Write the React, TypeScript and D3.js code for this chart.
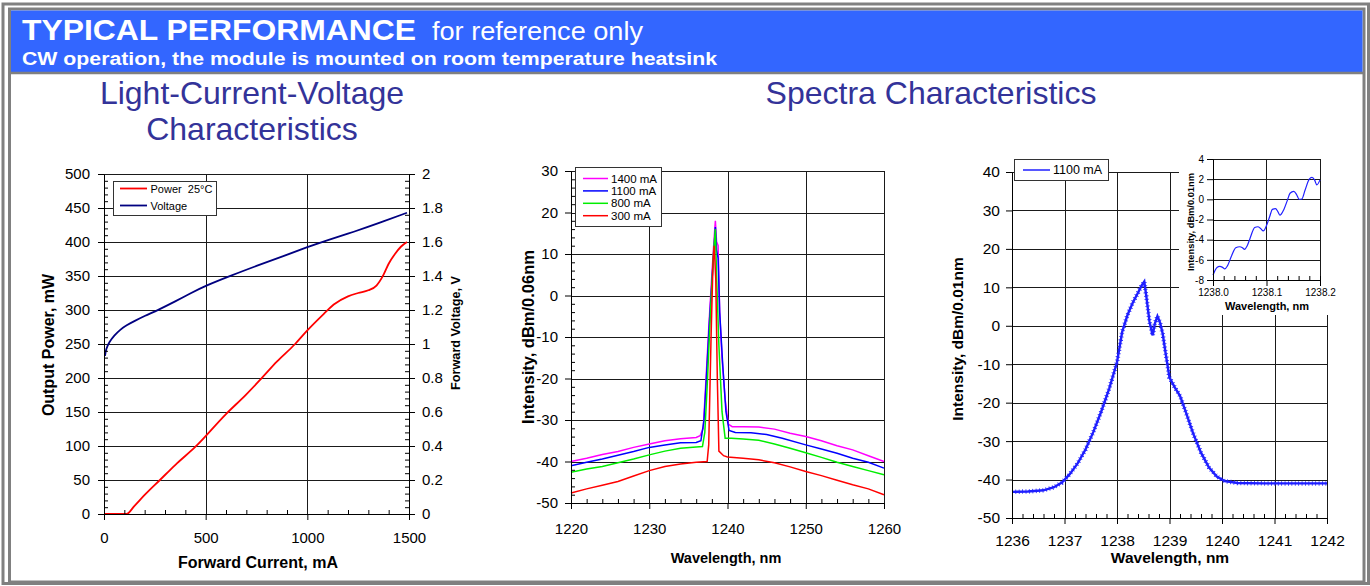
import React, { useEffect, useRef } from 'react';
import * as d3 from 'd3';

const FONT = "'Liberation Sans', Arial, Helvetica, sans-serif";

// ---- Light-Current-Voltage ----
const powerCurrent = [0, 50, 110, 150, 200, 275, 350, 450, 600, 700, 770, 850, 940, 1000, 1080, 1130, 1200, 1250, 1300, 1340, 1375, 1400, 1430, 1460, 1490];
const powerMw = [0, 0, 0, 12, 28, 50, 72, 99, 147, 176, 198, 224, 250, 270, 294, 308, 320, 325, 329, 336, 352, 368, 382, 393, 400];
const voltCurrent = [5, 10, 25, 50, 80, 110, 150, 200, 266, 350, 420, 500, 620, 750, 880, 1000, 1100, 1230, 1350, 1490];
const voltV = [0.93, 0.97, 1.01, 1.05, 1.085, 1.11, 1.135, 1.165, 1.2, 1.25, 1.295, 1.343, 1.4, 1.46, 1.515, 1.57, 1.612, 1.66, 1.71, 1.772];
const livCurrentTicks = [0, 500, 1000, 1500];
const livPowerTicks = [0, 50, 100, 150, 200, 250, 300, 350, 400, 450, 500];
const livVoltTicks = [0, 0.2, 0.4, 0.6, 0.8, 1, 1.2, 1.4, 1.6, 1.8, 2];

// ---- Spectra, four currents ----
const spectraNames = ['1400 mA', '1100 mA', '800 mA', '300 mA'];
const spectraColors = ['#ff00ff', '#0000ff', '#00ee00', '#ff0000'];
const wl1400 = [1220, 1222, 1224, 1226, 1228, 1230, 1232, 1234, 1236, 1236.5, 1236.9, 1237.2, 1237.6, 1238.0, 1238.3, 1238.45, 1238.6, 1238.8, 1239.0, 1239.3, 1239.7, 1240.1, 1240.6, 1242, 1244, 1246, 1248, 1250, 1252, 1254, 1256, 1258, 1260];
const db1400 = [-40, -39.2, -38.3, -37.6, -36.6, -35.8, -35.0, -34.5, -34.2, -33.8, -32, -22, -8, 5, 14, 18, 13, 12, -4, -15, -25, -31, -31.6, -31.6, -31.7, -32.2, -33.2, -34.0, -35.0, -36.2, -37.2, -38.6, -40];
const wl1100 = [1220, 1222, 1224, 1226, 1228, 1230, 1232, 1234, 1236, 1236.6, 1237, 1237.3, 1237.7, 1238.1, 1238.45, 1238.6, 1238.8, 1239.0, 1239.4, 1239.8, 1240.2, 1241, 1243, 1245, 1247, 1250, 1252, 1254, 1256, 1258, 1260];
const db1100 = [-41, -40.2, -39.4, -38.5, -37.6, -36.6, -36, -35.5, -35.4, -35, -30, -20, -6, 6, 16.5, 11, 9, -4, -17, -28, -32.5, -33, -33.1, -33.5, -34.4, -36, -37, -38, -39.2, -40.2, -41.6];
const wl800 = [1220, 1222, 1224, 1226, 1228, 1230, 1232, 1234, 1236, 1236.8, 1237.1, 1237.4, 1237.8, 1238.2, 1238.45, 1238.6, 1238.9, 1239.3, 1239.7, 1240.5, 1242, 1244, 1246, 1248, 1250, 1252, 1254, 1256, 1258, 1260];
const db800 = [-42.6, -41.8, -41.2, -40.3, -39.4, -38.4, -37.5, -36.8, -36.5, -36.4, -33, -22, -5, 10, 16, 5, -12, -28, -34.4, -34.4, -34.6, -34.9, -35.8, -36.8, -37.9, -39, -40.2, -41.2, -42.2, -43.2];
const wl300 = [1220, 1222, 1224, 1226, 1228, 1230, 1232, 1234, 1236, 1237.4, 1237.6, 1237.9, 1238.15, 1238.3, 1238.5, 1238.7, 1238.9, 1239.5, 1240, 1242, 1244, 1246, 1248, 1250, 1252, 1254, 1256, 1258, 1260];
const db300 = [-47.6, -46.6, -45.7, -44.8, -43.5, -42.2, -41.2, -40.6, -40.2, -40, -36, -10, 8, 12, 4, -20, -37.5, -38.6, -38.9, -39.2, -39.6, -40.3, -41.3, -42.4, -43.4, -44.5, -45.6, -46.6, -48];
const spectraWl = [wl1400, wl1100, wl800, wl300];
const spectraDb = [db1400, db1100, db800, db300];
const spectraWlTicks = [1220, 1230, 1240, 1250, 1260];
const spectraDbTicks = [-50, -40, -30, -20, -10, 0, 10, 20, 30];

// ---- Single spectrum, 1100 mA ----
const fineWl = [1236, 1236.3, 1236.6, 1236.8, 1236.95, 1237.1, 1237.25, 1237.4, 1237.55, 1237.7, 1237.85, 1238.0, 1238.1, 1238.2, 1238.3, 1238.4, 1238.47, 1238.52, 1238.56, 1238.62, 1238.68, 1238.72, 1238.77, 1238.82, 1238.87, 1238.93, 1239.0, 1239.1, 1239.2, 1239.3, 1239.45, 1239.6, 1239.75, 1239.9, 1240.05, 1240.3, 1240.8, 1241.4, 1242];
const fineDb = [-43.2, -43.1, -42.8, -42.0, -40.8, -38.6, -35.8, -32.2, -27.6, -22.3, -16.4, -9.5, -1.5, 2.8, 6.0, 8.6, 10.5, 11.5, 7.5, 1.0, -2.5, 0.5, 2.5, 0.8, -2.0, -7.5, -13.5, -16.0, -18.2, -22.0, -28.0, -33.0, -36.8, -39.2, -40.4, -40.9, -41.0, -41.0, -41.0];
const fineWlTicks = [1236, 1237, 1238, 1239, 1240, 1241, 1242];
const fineDbTicks = [-50, -40, -30, -20, -10, 0, 10, 20, 30, 40];

// inset zoom 1238.0 - 1238.2
const insetWl = [1238.0, 1238.0075, 1238.0125, 1238.018, 1238.022, 1238.027, 1238.034, 1238.0425, 1238.05, 1238.055, 1238.059, 1238.064, 1238.069, 1238.078, 1238.084, 1238.089, 1238.094, 1238.1, 1238.106, 1238.111, 1238.117, 1238.121, 1238.125, 1238.1325, 1238.139, 1238.144, 1238.151, 1238.156, 1238.161, 1238.166, 1238.172, 1238.18, 1238.185, 1238.19, 1238.194, 1238.2];
const insetDb = [-7.5, -6.75, -6.65, -6.75, -6.9, -6.6, -5.7, -4.8, -4.7, -4.8, -4.97, -4.6, -3.9, -2.8, -2.72, -2.9, -3.13, -2.6, -1.7, -1.0, -0.93, -1.2, -1.57, -1.0, -0.1, 0.6, 0.78, 0.5, 0.0, 0.03, 0.9, 2.0, 2.17, 1.9, 1.43, 1.93];
const insetWlTicks = [1238.0, 1238.1, 1238.2];
const insetDbTicks = [-8, -6, -4, -2, 0, 2, 4];

type G = d3.Selection<SVGGElement, unknown, null, undefined>;

const px = (v: number) => Math.round(v) + 0.5;

function gridLines(g: G, xs: number[], ys: number[], x0: number, x1: number, y0: number, y1: number) {
  xs.forEach(x => {
    g.append('line').attr('x1', px(x)).attr('x2', px(x)).attr('y1', y0).attr('y2', y1)
      .attr('stroke', '#1a1a1a').attr('stroke-width', 1);
  });
  ys.forEach(y => {
    g.append('line').attr('x1', x0).attr('x2', x1).attr('y1', px(y)).attr('y2', px(y))
      .attr('stroke', '#1a1a1a').attr('stroke-width', 1);
  });
}

function yAxis(g: G, scale: any, x: number, side: string, major: number[], minor: number[], fmt: (d: any) => string, pad: number, fs: number, minorLen = 4) {
  const mk = side === 'left' ? d3.axisLeft : d3.axisRight;
  const a = g.append('g').attr('transform', `translate(${x},0)`)
    .call(mk(scale).tickValues(major).tickSizeInner(6).tickSizeOuter(0).tickPadding(pad).tickFormat(fmt));
  a.attr('font-family', FONT).attr('font-size', fs);
  a.select('.domain').attr('stroke', '#000');
  if (minor.length) {
    const m = g.append('g').attr('transform', `translate(${x},0)`)
      .call(mk(scale).tickValues(minor).tickSize(-minorLen).tickFormat(() => ''));
    m.select('.domain').remove();
  }
}

function xAxis(g: G, scale: any, y: number, major: number[], minor: number[], fmt: (d: any) => string, pad: number, fs: number, minorLen = 4) {
  const a = g.append('g').attr('transform', `translate(0,${y})`)
    .call(d3.axisBottom(scale).tickValues(major).tickSizeInner(6).tickSizeOuter(0).tickPadding(pad).tickFormat(fmt));
  a.attr('font-family', FONT).attr('font-size', fs);
  a.select('.domain').attr('stroke', '#000');
  if (minor.length) {
    const m = g.append('g').attr('transform', `translate(0,${y})`)
      .call(d3.axisBottom(scale).tickValues(minor).tickSize(-minorLen).tickFormat(() => ''));
    m.select('.domain').remove();
  }
}

function label(g: G, text: string, x: number, y: number, fs: number, rotate = false) {
  g.append('text')
    .attr('transform', rotate ? `translate(${x},${y}) rotate(-90)` : `translate(${x},${y})`)
    .attr('text-anchor', 'middle')
    .attr('dominant-baseline', 'central')
    .attr('font-family', FONT)
    .attr('font-weight', 'bold')
    .attr('font-size', fs)
    .text(text);
}

const pairs = (xs: number[], ys: number[]) => xs.map((x, i) => [x, ys[i]] as [number, number]);

function App() {
  const ref = useRef<SVGSVGElement>(null);

  useEffect(() => {
    drawAll();
  }, []);

  function drawAll() {
    const svg = d3.select(ref.current);
    svg.selectAll('*').remove();
    const root = svg.append('g') as unknown as G;

    // frame + header
    root.append('rect').attr('x', 3).attr('y', 4).attr('width', 1365.5).attr('height', 579.5)
      .attr('fill', 'none').attr('stroke', '#808080').attr('stroke-width', 3);
    root.append('rect').attr('x', 9.5).attr('y', 9).attr('width', 1354.5).attr('height', 573)
      .attr('fill', 'none').attr('stroke', '#808080').attr('stroke-width', 3);
    root.append('rect').attr('x', 11).attr('y', 10.5).attr('width', 1351.5).attr('height', 61.5).attr('fill', '#3366ff');
    root.append('line').attr('x1', 11).attr('x2', 1364).attr('y1', 73).attr('y2', 73)
      .attr('stroke', '#808080').attr('stroke-width', 2.5);
    root.append('text').attr('x', 22).attr('y', 40).attr('fill', '#fff').attr('font-family', FONT)
      .attr('font-weight', 'bold').attr('font-size', 30).attr('textLength', 394).attr('lengthAdjust', 'spacingAndGlyphs')
      .text('TYPICAL PERFORMANCE');
    root.append('text').attr('x', 432).attr('y', 40).attr('fill', '#fff').attr('font-family', FONT)
      .attr('font-size', 25).attr('textLength', 211).attr('lengthAdjust', 'spacingAndGlyphs')
      .text('for reference only');
    root.append('text').attr('x', 22).attr('y', 65).attr('fill', '#fff').attr('font-family', FONT)
      .attr('font-weight', 'bold').attr('font-size', 18).attr('textLength', 695).attr('lengthAdjust', 'spacingAndGlyphs')
      .text('CW operation, the module is mounted on room temperature heatsink');

    // section titles
    const title = (t: string, x: number, y: number) => root.append('text').attr('x', x).attr('y', y)
      .attr('text-anchor', 'middle').attr('fill', '#333399').attr('font-family', FONT).attr('font-size', 32).text(t);
    title('Light-Current-Voltage', 252, 104);
    title('Characteristics', 252, 140);
    title('Spectra Characteristics', 931, 104);

    // ===== chart 1: L-I-V =====
    const c1 = root.append('g') as unknown as G;
    const x1 = d3.scaleLinear().domain([0, 1500]).range([104, 409]);
    const yP = d3.scaleLinear().domain([0, 500]).range([514, 174]);
    const yV = d3.scaleLinear().domain([0, 2]).range([514, 174]);
    gridLines(c1, [x1(500), x1(1000)], livPowerTicks.map(v => yP(v)), 104, 409, 174, 514);
    c1.append('path').datum(pairs(powerCurrent, powerMw))
      .attr('fill', 'none').attr('stroke', '#ff0000').attr('stroke-width', 1.8)
      .attr('d', d3.line().x(d => x1(d[0])).y(d => yP(d[1])).curve(d3.curveMonotoneX));
    c1.append('path').datum(pairs(voltCurrent, voltV))
      .attr('fill', 'none').attr('stroke', '#000080').attr('stroke-width', 1.8)
      .attr('d', d3.line().x(d => x1(d[0])).y(d => yV(d[1])).curve(d3.curveBasis));
    yAxis(c1, yP, 104, 'left', livPowerTicks, d3.range(0, 501, 10).filter(v => v % 50 !== 0), d => String(d), 8, 15);
    yAxis(c1, yV, 409, 'right', livVoltTicks, d3.range(0, 2.001, 0.04).filter(v => Math.abs(v / 0.2 - Math.round(v / 0.2)) > 0.01), d => String(+(+d).toFixed(1)), 7, 15);
    xAxis(c1, x1, 514, livCurrentTicks, d3.range(100, 1500, 100).filter(v => v % 500 !== 0), d => String(d), 12, 15);
    label(c1, 'Forward Current, mA', 258, 562, 16);
    label(c1, 'Output Power, mW', 48, 345, 16, true);
    label(c1, 'Forward Voltage, V', 456, 333, 12.7, true);
    // legend
    c1.append('rect').attr('x', 113.5).attr('y', 181.5).attr('width', 103).attr('height', 34)
      .attr('fill', '#fff').attr('stroke', '#333').attr('stroke-width', 1);
    [['Power  25°C', '#ff0000', 188.5], ['Voltage', '#000080', 205.5]].forEach(([t, c, y]) => {
      c1.append('line').attr('x1', 120).attr('x2', 147).attr('y1', y as number).attr('y2', y as number)
        .attr('stroke', c as string).attr('stroke-width', 1.8);
      c1.append('text').attr('x', 150.5).attr('y', y as number).attr('dominant-baseline', 'central')
        .attr('font-family', FONT).attr('font-size', 11).style('white-space', 'pre').text(t as string);
    });

    // ===== chart 2: spectra =====
    const c2 = root.append('g') as unknown as G;
    const x2 = d3.scaleLinear().domain([1220, 1260]).range([571, 884]);
    const y2 = d3.scaleLinear().domain([-50, 30]).range([503, 171]);
    gridLines(c2, [1230, 1240, 1250, 1260].map(v => x2(v)), spectraDbTicks.map(v => y2(v)), 571, 884, 171, 503);
    spectraWl.forEach((wl, i) => {
      c2.append('path').datum(pairs(wl, spectraDb[i]))
        .attr('fill', 'none').attr('stroke', spectraColors[i]).attr('stroke-width', 1.5)
        .attr('d', d3.line().x(d => x2(d[0])).y(d => y2(d[1])));
    });
    yAxis(c2, y2, 571, 'left', spectraDbTicks, d3.range(-50, 30, 2).filter(v => v % 10 !== 0), d => String(d), 7, 15);
    xAxis(c2, x2, 503, spectraWlTicks, d3.range(1220, 1260, 2).filter(v => v % 10 !== 0), d => String(d), 14, 15);
    label(c2, 'Wavelength, nm', 726, 558, 14.5);
    label(c2, 'Intensity, dBm/0.06nm', 528, 337, 16.5, true);
    c2.append('rect').attr('x', 575.5).attr('y', 167.5).attr('width', 86).attr('height', 59)
      .attr('fill', '#fff').attr('stroke', '#333').attr('stroke-width', 1);
    spectraNames.forEach((n, i) => {
      const y = 178.5 + i * 12.4;
      c2.append('line').attr('x1', 583).attr('x2', 608).attr('y1', y).attr('y2', y)
        .attr('stroke', spectraColors[i]).attr('stroke-width', 1.5);
      c2.append('text').attr('x', 611).attr('y', y).attr('dominant-baseline', 'central')
        .attr('font-family', FONT).attr('font-size', 11.5).text(n);
    });

    // ===== chart 3: fine spectrum =====
    const c3 = root.append('g') as unknown as G;
    const x3 = d3.scaleLinear().domain([1236, 1242]).range([1012, 1327]);
    const y3 = d3.scaleLinear().domain([-50, 40]).range([518, 172]);
    gridLines(c3, [1237, 1238, 1239, 1240, 1241, 1242].map(v => x3(v)), fineDbTicks.map(v => y3(v)), 1012, 1327, 172, 518);
    const fineLine = d3.line<[number, number]>().x(d => x3(d[0])).y(d => y3(d[1]));
    c3.append('path').datum(pairs(fineWl, fineDb))
      .attr('fill', 'none').attr('stroke', '#1f1fff').attr('stroke-width', 2.4).attr('d', fineLine);
    c3.append('path').datum(pairs(fineWl, fineDb))
      .attr('fill', 'none').attr('stroke', '#1f1fff').attr('stroke-width', 4.5)
      .attr('stroke-dasharray', '0.8 2.6').attr('d', fineLine);
    yAxis(c3, y3, 1012, 'left', fineDbTicks, [], d => String(d), 6, 15.5);
    xAxis(c3, x3, 518, fineWlTicks, d3.range(1236, 1242, 0.2).filter(v => Math.abs(v - Math.round(v)) > 0.01), d => String(d), 11, 15.5);
    label(c3, 'Wavelength, nm', 1170, 557, 15.5);
    label(c3, 'Intensity, dBm/0.01nm', 957, 339, 15.5, true);
    c3.append('rect').attr('x', 1014.5).attr('y', 159.5).attr('width', 94).attr('height', 21)
      .attr('fill', '#fff').attr('stroke', '#333').attr('stroke-width', 1);
    c3.append('line').attr('x1', 1023).attr('x2', 1050).attr('y1', 170).attr('y2', 170)
      .attr('stroke', '#1f1fff').attr('stroke-width', 1.5);
    c3.append('text').attr('x', 1053).attr('y', 170).attr('dominant-baseline', 'central')
      .attr('font-family', FONT).attr('font-size', 12.5).text('1100 mA');

    // inset
    const ci = root.append('g') as unknown as G;
    ci.append('rect').attr('x', 1179).attr('y', 150).attr('width', 164).attr('height', 165).attr('fill', '#fff');
    const xi = d3.scaleLinear().domain([1238.0, 1238.2]).range([1213, 1320]);
    const yi = d3.scaleLinear().domain([-8, 4]).range([280, 159]);
    gridLines(ci, [xi(1238.1), xi(1238.2)], insetDbTicks.map(v => yi(v)), 1213, 1320, 159, 280);
    ci.append('path').datum(pairs(insetWl, insetDb))
      .attr('fill', 'none').attr('stroke', '#1f1fff').attr('stroke-width', 1.2)
      .attr('d', d3.line().x(d => xi(d[0])).y(d => yi(d[1])).curve(d3.curveMonotoneX));
    yAxis(ci, yi, 1213, 'left', insetDbTicks, [], d => String(d), 3, 10, 0);
    xAxis(ci, xi, 280, insetWlTicks, d3.range(1238.02, 1238.2, 0.02).filter(v => Math.abs(v - 1238.1) > 0.005), d => (+d).toFixed(1), 3, 10, 4);
    label(ci, 'Wavelength, nm', 1267, 306, 11);
    label(ci, 'Intensity, dBm/0.01nm', 1191, 222, 9.3, true);
  }

  return (
    <svg ref={ref} width={1370} height={586}
      style={{ position: 'absolute', left: 0, top: 0, background: '#fff' }} />
  );
}

export default App;
